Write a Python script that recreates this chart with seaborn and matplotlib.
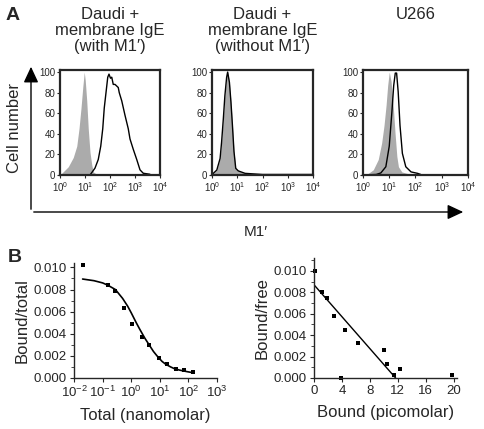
import numpy as np
import pandas as pd
import matplotlib
matplotlib.use("Agg")
import matplotlib.pyplot as plt
import seaborn as sns

# -------------------------
# Data
# -------------------------
# A: flow histograms, x = log10 fluorescence, y = % of max
a1_ctrl_log = [0.0, 0.07, 0.33, 0.53, 0.67, 0.76, 0.84, 0.91, 0.97, 1.01, 1.07, 1.13, 1.20, 1.27, 1.33, 1.47, 1.6]
a1_ctrl_y = [0, 1.7, 8, 17, 28, 45, 65, 85, 100, 92, 72, 45, 22, 10, 3, 0.7, 0]
a1_m1_log = [1.2, 1.27, 1.4, 1.53, 1.63, 1.71, 1.77, 1.84, 1.91, 1.96, 2.02, 2.07, 2.13, 2.2, 2.33, 2.37,
             2.47, 2.6, 2.73, 2.8, 2.93, 3.07, 3.2, 3.33, 3.6]
a1_m1_y = [0, 2.3, 6.7, 15, 28, 45, 65, 80, 95, 98, 94, 95, 88, 88, 85, 80, 72, 58, 45, 35, 25, 15, 5, 1.7, 0.7]

a2_log = [0.0, 0.05, 0.19, 0.32, 0.38, 0.45, 0.51, 0.58, 0.62, 0.69, 0.75, 0.81, 0.87, 0.94, 1.04, 1.31, 2.0, 4.0]
a2_y = [0, 1.6, 4.8, 16, 32, 55, 77, 95, 100, 90, 71, 48, 23, 6.5, 4, 1.6, 0.5, 0.5]

a3_ctrl_log = [0.0, 0.14, 0.39, 0.58, 0.71, 0.80, 0.88, 0.94, 1.0, 1.07, 1.16, 1.22, 1.29, 1.35, 1.48, 1.67, 2.0]
a3_ctrl_y = [0, 0.5, 5, 15, 31, 48, 68, 87, 100, 91, 64, 41, 18, 8, 3, 1.6, 0]
a3_m1_log = [0.0, 0.5, 0.68, 0.87, 1.0, 1.1, 1.17, 1.23, 1.28, 1.34, 1.41, 1.5, 1.63, 1.83, 2.08, 2.2]
a3_m1_y = [0, 0.5, 2, 8, 28, 61, 87, 99, 99, 81, 48, 21, 8, 3, 1.6, 0.5]

hist_titles = ["Daudi +\nmembrane IgE\n(with M1\u2032)", "Daudi +\nmembrane IgE\n(without M1\u2032)", "U266"]
hist_xticks = [1, 10, 100, 1000, 10000]
hist_xlabels = ["$10^{0}$", "$10^{1}$", "$10^{2}$", "$10^{3}$", "$10^{4}$"]
hist_yticks = [0, 20, 40, 60, 80, 100]

# B left: bound/total vs total (nM)
bt_total = [0.02, 0.15, 0.28, 0.56, 1.1, 2.3, 4.3, 9.5, 18, 36, 72, 150]
bt_ratio = [0.0102, 0.0084, 0.0079, 0.0063, 0.0049, 0.0037, 0.0030, 0.0018, 0.0013, 0.0008, 0.0007, 0.0005]
fit_total = [0.02, 0.05, 0.1, 0.15, 0.28, 0.5, 0.75, 1.0, 1.5, 2.0, 3.0, 4.0, 6.0, 8.0, 12, 16, 24, 32, 48, 64, 96, 130]
fit_ratio = [0.00895, 0.0088, 0.0086, 0.0084, 0.0080, 0.0072, 0.0065, 0.0059, 0.0050, 0.0044, 0.0036,
             0.0031, 0.0024, 0.0020, 0.0015, 0.00125, 0.00100, 0.00085, 0.00072, 0.00065, 0.00056, 0.0005]

# B right: Scatchard plot
sc_bound = [0.2, 1.1, 1.9, 2.9, 3.9, 4.5, 6.3, 10.0, 10.4, 11.4, 12.3, 19.8]
sc_ratio = [0.0100, 0.0080, 0.0075, 0.0058, 0.0000, 0.0045, 0.0033, 0.0026, 0.0013, 0.0003, 0.0008, 0.0003]
sc_line_x = [0, 11.7]
sc_line_y = [0.0087, 0.0]

# -------------------------
# Style
# -------------------------
sns.set_style("ticks")
plt.rcParams['font.family'] = ['Liberation Sans', 'DejaVu Sans']
plt.rcParams['mathtext.fontset'] = 'custom'
plt.rcParams['mathtext.rm'] = 'Liberation Sans'
plt.rcParams['mathtext.it'] = 'Liberation Sans'
gray = "#ababab"

W, H = 485, 429
fig = plt.figure(figsize=(W / 100, H / 100), dpi=100)


def px_axes(x0, y0, x1, y1):
    return fig.add_axes([x0 / W, 1 - y1 / H, (x1 - x0) / W, (y1 - y0) / H])


def style_hist(ax):
    ax.set_xscale("log")
    ax.set_xlim(1, 10000)
    ax.set_ylim(0, 102)
    ax.set_xticks(hist_xticks)
    ax.set_xticklabels(hist_xlabels)
    ax.xaxis.set_minor_locator(matplotlib.ticker.NullLocator())
    ax.set_yticks(hist_yticks)
    ax.tick_params(labelsize=7, length=2.5, width=0.8, pad=1)
    for s in ax.spines.values():
        s.set_linewidth(1.6)
    ax.set_xlabel("")
    ax.set_ylabel("")


hist_boxes = [(60, 70, 160, 175), (212, 70, 313, 175), (363, 70, 468, 175)]
axes_a = [px_axes(*b) for b in hist_boxes]

# panel A1
ax = axes_a[0]
ax.fill_between(10 ** np.array(a1_ctrl_log), a1_ctrl_y, color=gray, lw=0)
sns.lineplot(x=10 ** np.array(a1_m1_log), y=a1_m1_y, ax=ax, color="black", lw=1.0, sort=False, estimator=None)

# panel A2
ax = axes_a[1]
ax.fill_between(10 ** np.array(a2_log), a2_y, color=gray, lw=0)
sns.lineplot(x=10 ** np.array(a2_log), y=a2_y, ax=ax, color="black", lw=1.0, sort=False, estimator=None)

# panel A3
ax = axes_a[2]
ax.fill_between(10 ** np.array(a3_ctrl_log), a3_ctrl_y, color=gray, lw=0)
sns.lineplot(x=10 ** np.array(a3_m1_log), y=a3_m1_y, ax=ax, color="black", lw=1.0, sort=False, estimator=None)

for ax, (x0, y0, x1, y1), t in zip(axes_a, hist_boxes, hist_titles):
    style_hist(ax)
    fig.text((x0 + x1) / 2 / W, 1 - 7 / H, t, ha="center", va="top", fontsize=12, linespacing=1.1)

# big axis arrows
arrow_kw = dict(transform=fig.transFigure, arrowstyle="-|>,head_length=6,head_width=2.8",
                mutation_scale=1.6, lw=1.0, color="black")
fig.add_artist(matplotlib.patches.FancyArrowPatch((31 / W, 1 - 212 / H), (31 / W, 1 - 64 / H), **arrow_kw))
fig.add_artist(matplotlib.patches.FancyArrowPatch((31 / W, 1 - 212 / H), (466 / W, 1 - 212 / H), **arrow_kw))
fig.text(15 / W, 1 - 128 / H, "Cell number", rotation=90, ha="center", va="center", fontsize=12)
fig.text(256 / W, 1 - 232 / H, "M1\u2032", ha="center", va="center", fontsize=11)
fig.text(6 / W, 1 - 16 / H, "A", ha="left", va="center", fontsize=14, fontweight="bold")
fig.text(8 / W, 1 - 258 / H, "B", ha="left", va="center", fontsize=14, fontweight="bold")

# -------------------------
# Panel B
# -------------------------
axl = px_axes(74, 263, 217, 378)
sns.lineplot(x=fit_total, y=fit_ratio, ax=axl, color="black", lw=1.2, sort=False, estimator=None)
sns.scatterplot(x=bt_total, y=bt_ratio, ax=axl, color="black", marker="s", s=5, linewidth=0)
axl.set_xscale("log")
axl.set_xlim(0.01, 1000)
axl.set_ylim(0, 0.0104)
axl.set_xticks([0.01, 0.1, 1, 10, 100, 1000])
axl.set_xticklabels(["$10^{-2}$", "$10^{-1}$", "$10^{0}$", "$10^{1}$", "$10^{2}$", "$10^{3}$"])
axl.xaxis.set_minor_locator(matplotlib.ticker.NullLocator())
axl.set_ylabel("Bound/total", fontsize=12, labelpad=3)
axl.set_xlabel("Total (nanomolar)", fontsize=12, labelpad=6)

axr = px_axes(314, 258, 457, 378)
sns.lineplot(x=sc_line_x, y=sc_line_y, ax=axr, color="black", lw=1.0, sort=False, estimator=None)
sns.scatterplot(x=sc_bound, y=sc_ratio, ax=axr, color="black", marker="s", s=5, linewidth=0, clip_on=False)
axr.set_xlim(0, 20.5)
axr.set_ylim(0, 0.0112)
axr.set_xticks([0, 4, 8, 12, 16, 20])
axr.set_ylabel("Bound/free", fontsize=12, labelpad=3)
axr.set_xlabel("Bound (picomolar)", fontsize=12, labelpad=6)

for ax in (axl, axr):
    sns.despine(ax=ax)
    ax.set_yticks([0, 0.002, 0.004, 0.006, 0.008, 0.010])
    ax.yaxis.set_major_formatter(matplotlib.ticker.FormatStrFormatter("%.3f"))
    ax.yaxis.set_minor_locator(matplotlib.ticker.MultipleLocator(0.001))
    ax.tick_params(labelsize=9.5, length=3, width=0.8, pad=2)
    ax.tick_params(which="minor", length=2, width=0.6)
    for s in ax.spines.values():
        s.set_linewidth(1.0)

fig.savefig("out.png", dpi=100)
